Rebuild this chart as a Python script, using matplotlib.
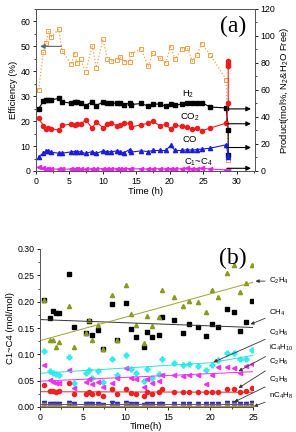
import matplotlib
matplotlib.use("Agg")
import matplotlib.pyplot as plt
from matplotlib.ticker import MultipleLocator, AutoMinorLocator

plt.rcParams['font.family'] = ['Liberation Sans', 'DejaVu Sans']
plt.rcParams['mathtext.fontset'] = 'custom'
plt.rcParams['mathtext.rm'] = 'Liberation Sans'
plt.rcParams['mathtext.it'] = 'Liberation Sans'

# ---------------- panel (a) data ----------------
t_a = [0.4, 1.1, 1.5, 1.85, 2.2, 3.4, 3.9, 5.3, 5.75, 6.1, 6.65, 7.4, 8.4, 9.0,
       10.0, 10.65, 11.2, 12.1, 12.55, 13.1, 14.0, 14.15, 15.7, 16.75, 17.45,
       18.5, 19.35, 20.1, 20.75, 21.8, 22.6, 23.35, 24.0, 24.75, 26.0, 28.4]
t_end = 28.7

eff = [32.7, 47.8, 51.3, 56.2, 53.7, 56.8, 48.2, 42.8, 47.1, 43.5, 44.9, 39.7,
       50.3, 41.5, 52.9, 44.8, 44.1, 44.5, 45.7, 43.9, 43.9, 46.8, 49.0, 42.0,
       47.4, 45.2, 43.5, 49.9, 44.8, 49.0, 49.5, 44.0, 46.7, 51.1, 46.7, 36.7]
eff_end = [4.5]

h2 = [46.2, 51.6, 52.9, 52.5, 52.5, 53.9, 51.2, 50.2, 51.2, 51.0, 50.2, 48.4,
      51.4, 48.4, 51.2, 50.0, 50.2, 50.2, 50.2, 49.2, 50.2, 49.2, 50.0, 48.0,
      49.4, 49.7, 48.0, 49.7, 48.7, 49.7, 50.7, 50.7, 50.0, 50.7, 47.4, 46.7]
h2_end = [30.5, 12.0]

co2 = [39.3, 33.5, 31.3, 31.5, 31.3, 30.3, 33.8, 34.8, 34.3, 34.8, 34.5, 37.8,
       31.8, 36.5, 32.0, 34.8, 35.3, 33.5, 34.3, 35.8, 35.3, 32.5, 34.3, 35.3,
       36.8, 33.5, 34.5, 31.0, 34.0, 33.0, 32.5, 31.0, 31.8, 29.8, 31.8, 35.5]
co2_end = [50.4, 77.5, 79.5, 81.5]

co = [10.7, 13.2, 14.9, 14.9, 13.9, 13.2, 13.2, 14.2, 14.4, 14.4, 14.2, 13.0,
      14.4, 13.0, 14.9, 14.4, 14.2, 14.9, 14.4, 13.5, 15.9, 14.0, 14.9, 14.4,
      15.2, 15.2, 15.2, 18.9, 15.2, 15.2, 15.9, 15.4, 15.9, 16.2, 16.9, 19.4]
co_end = [11.7, 10.7]

c1c4 = [3.2, 2.0, 1.6, 1.4, 1.5, 1.4, 1.3, 1.5, 1.4, 1.6, 1.5, 1.2, 1.7, 1.4,
        1.8, 1.5, 1.6, 1.7, 1.5, 1.6, 1.8, 1.5, 1.7, 1.4, 1.8, 1.6, 1.5, 1.8,
        1.6, 1.7, 1.9, 1.6, 1.8, 2.0, 1.5, 0.8]
c1c4_end = [0.5]

# arrow targets (right axis values) for panel (a)
arrow_vals = [46, 35, 17.4, 2]

# ---------------- panel (b) data ----------------
t_b = [0.47, 1.15, 1.57, 1.88, 2.24, 3.41, 3.96, 5.37, 5.8, 6.08, 6.75, 7.4,
       8.5, 9.06, 10.08, 10.7, 11.26, 12.15, 12.6, 13.2, 14.0, 14.3, 15.76,
       16.8, 17.5, 18.6, 19.45, 20.2, 20.85, 22.0, 22.75, 23.45, 24.2, 24.9]

ch4 = [0.203, 0.169, 0.182, 0.179, 0.179, 0.252, 0.151, 0.141, 0.163, 0.136,
       0.147, 0.111, 0.195, 0.127, 0.198, 0.148, 0.133, 0.114, 0.143, 0.132,
       0.137, 0.170, 0.166, 0.141, 0.158, 0.151, 0.135, 0.157, 0.152, 0.187,
       0.181, 0.144, 0.162, 0.201]
c2h4 = [0.203, 0.128, 0.128, 0.113, 0.124, 0.191, 0.113, 0.141, 0.165, 0.127,
        0.155, 0.111, 0.212, 0.128, 0.232, 0.176, 0.155, 0.122, 0.172, 0.153,
        0.170, 0.222, 0.209, 0.192, 0.201, 0.200, 0.181, 0.223, 0.209, 0.254,
        0.269, 0.218, 0.236, 0.270]
c3h6 = [0.107, 0.068, 0.065, 0.062, 0.061, 0.094, 0.046, 0.065, 0.071, 0.056,
        0.069, 0.048, 0.092, 0.060, 0.098, 0.073, 0.064, 0.050, 0.073, 0.056,
        0.062, 0.091, 0.083, 0.080, 0.081, 0.078, 0.070, 0.080, 0.089, 0.102,
        0.102, 0.091, 0.092, 0.108]
ic4h10 = [0.080, 0.051, 0.048, 0.045, 0.045, 0.070, 0.037, 0.048, 0.054, 0.043,
          0.048, 0.038, 0.045, 0.056, 0.074, 0.056, 0.053, 0.038, 0.054, 0.046,
          0.050, 0.061, 0.061, 0.059, 0.061, 0.061, 0.044, 0.061, 0.076, 0.076,
          0.074, 0.064, 0.077, 0.081]
c2h6 = [0.042, 0.031, 0.031, 0.029, 0.030, 0.045, 0.025, 0.025, 0.028, 0.025,
        0.027, 0.020, 0.035, 0.024, 0.035, 0.026, 0.025, 0.020, 0.028, 0.025,
        0.028, 0.034, 0.029, 0.028, 0.029, 0.029, 0.028, 0.028, 0.029, 0.035,
        0.034, 0.029, 0.031, 0.037]
c3h8 = [0.008, 0.006, 0.006, 0.006, 0.006, 0.008, 0.005, 0.005, 0.006, 0.005,
        0.005, 0.004, 0.007, 0.005, 0.007, 0.005, 0.005, 0.004, 0.006, 0.005,
        0.005, 0.006, 0.006, 0.006, 0.006, 0.006, 0.005, 0.006, 0.006, 0.007,
        0.007, 0.006, 0.006, 0.007]
nc4h8 = [0.003, 0.002, 0.002, 0.002, 0.002, 0.003, 0.002, 0.002, 0.002, 0.002,
         0.002, 0.002, 0.002, 0.002, 0.003, 0.002, 0.002, 0.002, 0.002, 0.002,
         0.002, 0.002, 0.002, 0.002, 0.002, 0.002, 0.002, 0.002, 0.002, 0.003,
         0.003, 0.002, 0.002, 0.003]

# trend lines
fit_t = [0, 25]
ch4_fit = [0.166, 0.151]
c2h4_fit = [0.126, 0.237]
c3h6_fit_t = [0, 12, 20, 25]
c3h6_fit = [0.064, 0.076, 0.084, 0.098]
ic4h10_fit = [0.049, 0.067]
c2h6_fit = [0.029, 0.028]
c3h8_fit = [0.006, 0.006]
nc4h8_fit = [0.002, 0.002]

# labels on the right of panel (b): text, text y, arrow head (x, y)
labels_b = [("C$_2$H$_4$", 0.239, 25.3, 0.239),
            ("CH$_4$", 0.178, 24.7, 0.157),
            ("C$_3$H$_6$", 0.140, 20.35, 0.085),
            ("iC$_4$H$_{10}$", 0.112, 23.3, 0.068),
            ("C$_2$H$_6$", 0.085, 23.3, 0.036),
            ("C$_3$H$_8$", 0.051, 22.8, 0.0095),
            ("nC$_4$H$_8$", 0.021, 25.1, 0.001)]

fs = 6.3
fig = plt.figure(figsize=(2.96, 4.32), dpi=100)

# ---------------- panel (a) ----------------
ax1 = fig.add_axes([36/296, 1-171/432, 219/296, 162/432])
ax2 = ax1.twinx()
ms = 3
ax1.plot(t_a + [t_end], eff + eff_end, ls=':', color='#f2a04a', lw=0.9,
         marker='s', ms=3.3, mfc='none', mec='#f2a04a', mew=0.7, zorder=3)
ax2.plot(t_a + [t_end]*2, h2 + h2_end, '-', color='black', lw=0.8, marker='s', ms=ms)
ax2.plot(t_a + [t_end]*4, co2 + co2_end, '-', color='#ee1c1c', lw=0.8, marker='o', ms=ms)
ax2.plot(t_a + [t_end]*2, co + co_end, '-', color='#1c1ce0', lw=0.8, marker='^', ms=ms)
ax2.plot(t_a + [t_end], c1c4 + c1c4_end, '-', color='#ee22ee', lw=0.8, marker='<', ms=ms)

ax1.set_xlim(0, 32.7)
ax1.set_ylim(0, 65)
ax2.set_ylim(0, 120)
ax1.xaxis.set_major_locator(MultipleLocator(5))
ax1.xaxis.set_minor_locator(AutoMinorLocator(2))
ax1.yaxis.set_major_locator(MultipleLocator(10))
ax1.yaxis.set_minor_locator(AutoMinorLocator(2))
ax2.yaxis.set_major_locator(MultipleLocator(20))
ax2.yaxis.set_minor_locator(AutoMinorLocator(2))
for ax in (ax1, ax2):
    ax.tick_params(which='both', direction='out', labelsize=fs, pad=1.5)
    ax.tick_params(which='major', length=2.5, width=0.6)
    ax.tick_params(which='minor', length=1.5, width=0.5)
    for s in ax.spines.values():
        s.set_linewidth(0.7)
        s.set_color('#555555')
ax1.set_xlabel('Time (h)', fontsize=fs+0.5, labelpad=1)
ax1.set_ylabel('Efficiency (%)', fontsize=fs+0.5, labelpad=2)
ax2.set_ylabel('Product(mol%, N$_2$&H$_2$O Free)', fontsize=fs+0.5, labelpad=2)

ax1.annotate('', xy=(0.6, 50), xytext=(3.8, 50),
             arrowprops=dict(arrowstyle='-|>', color='#666666', lw=0.8,
                             mutation_scale=7, shrinkA=0, shrinkB=0))
for v in arrow_vals:
    ax2.annotate('', xy=(32.1, v), xytext=(28.5, v),
                 arrowprops=dict(arrowstyle='-|>', color='black', lw=0.8,
                                 mutation_scale=7, shrinkA=0, shrinkB=0))
ax2.text(22.7, 57, 'H$_2$', fontsize=fs+0.5, ha='center', va='center')
ax2.text(23.0, 40, 'CO$_2$', fontsize=fs+0.5, ha='center', va='center')
ax2.text(22.9, 23, 'CO', fontsize=fs+0.5, ha='center', va='center')
ax2.text(24.2, 6.5, 'C$_1$~C$_4$', fontsize=fs+0.5, ha='center', va='center')
ax2.text(29.4, 107, '(a)', fontsize=17, family='Liberation Serif',
         ha='center', va='center')

# ---------------- panel (b) ----------------
bx = fig.add_axes([40/296, 1-407/432, 213/296, 158/432])
mb = 3
bx.plot(t_b, ch4, 's', color='black', ms=mb - 0.3, ls='none')
bx.plot(t_b, c2h4, '^', color='#8a9a1e', ms=mb, ls='none')
bx.plot(t_b, c3h6, 'P', color='#33eeee', ms=mb + 0.5, ls='none')
bx.plot(t_b, ic4h10, '<', color='#ee33ee', ms=mb, ls='none')
bx.plot(t_b, c2h6, 'o', color='#ee2222', ms=mb, ls='none')
bx.plot(t_b, c3h8, 'v', color='#2a2ad0', ms=mb, ls='none')
bx.plot(t_b, nc4h8, 's', color='#9a8a2a', ms=mb - 0.8, ls='none')

bx.plot(fit_t, ch4_fit, '-', color='#333333', lw=0.7)
bx.plot(fit_t, c2h4_fit, '-', color='#9aa430', lw=0.7)
bx.plot(c3h6_fit_t, c3h6_fit, '-', color='#33dddd', lw=0.7)
bx.plot(fit_t, ic4h10_fit, '-', color='#ee33ee', lw=0.7)
bx.plot(fit_t, c2h6_fit, '-', color='#ee2222', lw=0.7)
bx.plot(fit_t, c3h8_fit, '-', color='#5a4ac0', lw=0.7)
bx.plot(fit_t, nc4h8_fit, '-', color='#b09030', lw=0.7)

bx.set_xlim(0, 25)
bx.set_ylim(0, 0.30)
bx.xaxis.set_major_locator(MultipleLocator(5))
bx.xaxis.set_minor_locator(AutoMinorLocator(2))
bx.yaxis.set_major_locator(MultipleLocator(0.05))
bx.yaxis.set_minor_locator(AutoMinorLocator(2))
bx.yaxis.set_major_formatter(plt.FormatStrFormatter('%.2f'))
bx.tick_params(which='both', direction='out', labelsize=fs, pad=1.5)
bx.tick_params(which='major', length=2.5, width=0.6)
bx.tick_params(which='minor', length=1.5, width=0.5)
bx.spines['top'].set_visible(False)
bx.spines['right'].set_visible(False)
for s in ('left', 'bottom'):
    bx.spines[s].set_linewidth(0.7)
    bx.spines[s].set_color('#555555')
bx.set_xlabel('Time(h)', fontsize=fs+0.5, labelpad=0)
bx.set_ylabel('C1~C4 (mol/mol)', fontsize=fs+0.5, labelpad=2)

for txt, ty, hx, hy in labels_b:
    bx.annotate(txt, xy=(hx, hy), xytext=(26.9, ty), fontsize=5.7,
                ha='left', va='center', annotation_clip=False,
                arrowprops=dict(arrowstyle='-|>', color='#333333', lw=0.6,
                                mutation_scale=5, shrinkA=1, shrinkB=0))
bx.text(22.6, 0.283, '(b)', fontsize=17, family='Liberation Serif',
        ha='center', va='center')

fig.savefig('out.png', dpi=100)
